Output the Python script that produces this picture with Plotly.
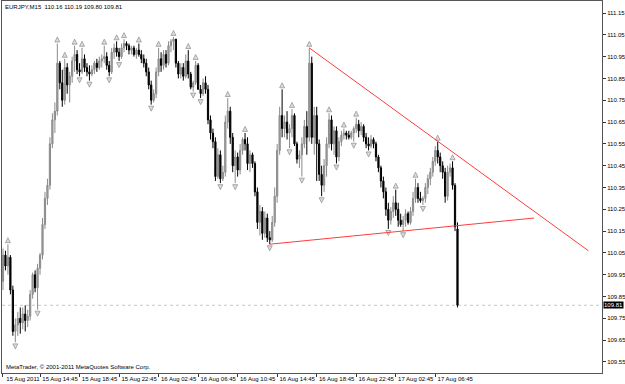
import pandas as pd
import plotly.graph_objects as go

symbol_title = "EURJPY,M15  110.16 110.19 109.80 109.81"
copyright_text = "MetaTrader, © 2001-2011 MetaQuotes Software Corp."
first_bar_time = "2011-08-15 11:00"

opens = [109.92, 110.04, 109.99, 110.03, 109.88, 109.69, 109.72, 109.75, 109.73, 109.77,
         109.74, 109.76, 109.86, 109.95, 109.89, 109.98, 110.04, 110.18, 110.30, 110.36,
         110.55, 110.66, 110.70, 110.92, 110.83, 110.75, 110.90, 110.82, 110.86, 110.93,
         110.96, 110.89, 110.88, 110.94, 110.90, 110.88, 110.87, 110.89, 110.92, 110.90,
         110.93, 110.94, 110.95, 110.91, 110.88, 110.97, 110.99, 110.97, 110.95, 110.99,
         111.01, 111.00, 110.98, 110.99, 110.96, 110.98, 110.96, 110.94, 110.92, 110.88,
         110.82, 110.75, 110.78, 110.88, 110.94, 110.91, 110.96, 110.92, 111.00, 111.02,
         111.03, 110.92, 110.87, 110.90, 110.86, 110.93, 110.87, 110.81, 110.83, 110.91,
         110.80, 110.78, 110.83, 110.80, 110.66, 110.60, 110.56, 110.40, 110.50, 110.39,
         110.42, 110.65, 110.70, 110.58, 110.45, 110.49, 110.43, 110.52, 110.57, 110.55,
         110.46, 110.50, 110.46, 110.33, 110.19, 110.24, 110.14, 110.21, 110.12, 110.11,
         110.19, 110.31, 110.52, 110.68, 110.62, 110.65, 110.60, 110.62, 110.68, 110.55,
         110.48, 110.50, 110.55, 110.63, 110.58, 110.92, 110.58, 110.68, 110.55, 110.41,
         110.36, 110.45, 110.55, 110.66, 110.55, 110.61, 110.49, 110.56, 110.59, 110.60,
         110.59, 110.58, 110.60, 110.62, 110.64, 110.61, 110.63, 110.58, 110.55, 110.54,
         110.57, 110.55, 110.49, 110.44, 110.38, 110.33, 110.25, 110.20, 110.24, 110.28,
         110.25, 110.20, 110.18, 110.20, 110.23, 110.19, 110.24, 110.30, 110.35, 110.30,
         110.29, 110.30, 110.35, 110.39, 110.42, 110.47, 110.52, 110.49, 110.45, 110.42,
         110.31, 110.42, 110.44, 110.36, 110.16]

highs = [110.07, 110.06, 110.09, 110.04, 109.90, 109.75, 109.78, 109.80, 109.80, 109.81,
         109.79, 109.88, 109.96, 109.97, 110.00, 110.05, 110.21, 110.33, 110.39, 110.58,
         110.69, 110.74, 111.01, 110.93, 110.89, 110.94, 110.92, 110.88, 110.95, 111.00,
         110.98, 110.92, 110.99, 110.96, 110.92, 110.91, 110.91, 110.93, 110.94, 110.95,
         110.96, 111.00, 110.97, 110.93, 110.99, 111.01, 111.02, 110.99, 111.01, 111.03,
         111.02, 111.01, 111.00, 111.00, 110.99, 111.01, 110.98, 110.96, 110.94, 110.90,
         110.84, 110.80, 110.90, 110.99, 110.97, 110.98, 110.98, 111.02, 111.03, 111.04,
         111.03, 110.93, 110.92, 110.92, 110.96, 110.98, 110.88, 110.84, 110.93, 110.92,
         110.82, 110.85, 110.86, 110.82, 110.68, 110.62, 110.58, 110.53, 110.52, 110.45,
         110.68, 110.76, 110.72, 110.60, 110.52, 110.51, 110.55, 110.58, 110.60, 110.58,
         110.52, 110.51, 110.47, 110.35, 110.27, 110.26, 110.24, 110.23, 110.15, 110.22,
         110.35, 110.55, 110.72, 110.80, 110.68, 110.70, 110.64, 110.71, 110.69, 110.56,
         110.52, 110.58, 110.66, 110.70, 110.99, 110.95, 110.72, 110.72, 110.57, 110.45,
         110.48, 110.58, 110.69, 110.68, 110.63, 110.63, 110.58, 110.61, 110.62, 110.61,
         110.61, 110.61, 110.63, 110.67, 110.66, 110.65, 110.64, 110.60, 110.58, 110.59,
         110.58, 110.56, 110.50, 110.45, 110.40, 110.35, 110.28, 110.26, 110.31, 110.34,
         110.28, 110.23, 110.22, 110.25, 110.24, 110.26, 110.33, 110.39, 110.37, 110.33,
         110.31, 110.37, 110.41, 110.44, 110.49, 110.54, 110.56, 110.51, 110.47, 110.44,
         110.45, 110.46, 110.47, 110.37, 110.19]

lows = [109.88, 109.97, 109.95, 109.86, 109.67, 109.64, 109.67, 109.68, 109.70, 109.69,
        109.71, 109.74, 109.84, 109.87, 109.79, 109.95, 110.02, 110.16, 110.27, 110.34,
        110.53, 110.60, 110.68, 110.80, 110.72, 110.73, 110.78, 110.74, 110.83, 110.88,
        110.87, 110.86, 110.87, 110.88, 110.86, 110.84, 110.86, 110.87, 110.88, 110.89,
        110.90, 110.92, 110.89, 110.86, 110.87, 110.94, 110.95, 110.93, 110.94, 110.97,
        110.98, 110.96, 110.96, 110.95, 110.94, 110.95, 110.92, 110.90, 110.86, 110.80,
        110.73, 110.74, 110.76, 110.86, 110.88, 110.89, 110.90, 110.91, 110.97, 110.98,
        110.90, 110.85, 110.85, 110.84, 110.85, 110.85, 110.80, 110.79, 110.82, 110.80,
        110.76, 110.77, 110.78, 110.64, 110.57, 110.53, 110.38, 110.39, 110.37, 110.38,
        110.40, 110.62, 110.55, 110.42, 110.37, 110.40, 110.41, 110.50, 110.52, 110.43,
        110.42, 110.44, 110.31, 110.16, 110.13, 110.11, 110.12, 110.10, 110.09, 110.10,
        110.17, 110.28, 110.50, 110.58, 110.58, 110.57, 110.53, 110.58, 110.54, 110.46,
        110.44, 110.40, 110.53, 110.50, 110.56, 110.55, 110.50, 110.38, 110.38, 110.31,
        110.33, 110.40, 110.53, 110.52, 110.50, 110.46, 110.47, 110.54, 110.57, 110.57,
        110.57, 110.57, 110.56, 110.60, 110.58, 110.59, 110.56, 110.53, 110.52, 110.53,
        110.53, 110.47, 110.42, 110.35, 110.30, 110.22, 110.16, 110.18, 110.21, 110.22,
        110.17, 110.17, 110.15, 110.17, 110.18, 110.18, 110.22, 110.28, 110.28, 110.28,
        110.27, 110.28, 110.32, 110.36, 110.40, 110.45, 110.46, 110.42, 110.39, 110.28,
        110.29, 110.40, 110.34, 110.15, 109.80]

closes = [110.04, 109.99, 110.03, 109.88, 109.69, 109.72, 109.75, 109.73, 109.77, 109.74,
          109.76, 109.86, 109.95, 109.89, 109.98, 110.04, 110.18, 110.30, 110.36, 110.55,
          110.66, 110.70, 110.92, 110.83, 110.75, 110.90, 110.82, 110.86, 110.93, 110.96,
          110.89, 110.88, 110.94, 110.90, 110.88, 110.87, 110.89, 110.92, 110.90, 110.93,
          110.94, 110.95, 110.91, 110.88, 110.97, 110.99, 110.97, 110.95, 110.99, 111.01,
          111.00, 110.98, 110.99, 110.96, 110.98, 110.96, 110.94, 110.92, 110.88, 110.82,
          110.75, 110.78, 110.88, 110.94, 110.91, 110.96, 110.92, 111.00, 111.02, 111.03,
          110.92, 110.87, 110.90, 110.86, 110.93, 110.87, 110.81, 110.83, 110.91, 110.80,
          110.78, 110.83, 110.80, 110.66, 110.60, 110.56, 110.40, 110.50, 110.39, 110.42,
          110.65, 110.70, 110.58, 110.45, 110.49, 110.43, 110.52, 110.57, 110.55, 110.46,
          110.50, 110.46, 110.33, 110.19, 110.24, 110.14, 110.21, 110.12, 110.11, 110.19,
          110.31, 110.52, 110.68, 110.62, 110.65, 110.60, 110.62, 110.68, 110.55, 110.48,
          110.50, 110.55, 110.63, 110.58, 110.92, 110.58, 110.68, 110.55, 110.41, 110.36,
          110.45, 110.55, 110.66, 110.55, 110.61, 110.49, 110.56, 110.59, 110.60, 110.59,
          110.58, 110.60, 110.62, 110.64, 110.61, 110.63, 110.58, 110.55, 110.54, 110.57,
          110.55, 110.49, 110.44, 110.38, 110.33, 110.25, 110.20, 110.24, 110.28, 110.25,
          110.20, 110.18, 110.20, 110.23, 110.19, 110.24, 110.30, 110.35, 110.30, 110.29,
          110.30, 110.35, 110.39, 110.42, 110.47, 110.52, 110.49, 110.45, 110.42, 110.31,
          110.42, 110.44, 110.36, 110.17, 109.81]

fractal_up_bars = [2, 22, 25, 29, 32, 41, 46, 49, 55, 63, 69, 75, 78, 91, 98, 113, 117,
                   124, 132, 138, 143, 159, 167, 176, 182]
fractal_down_bars = [5, 14, 31, 35, 43, 47, 60, 77, 80, 88, 94, 108, 116, 121, 129, 135,
                     142, 148, 156, 162, 170]

upper_trend_time = ["2011-08-16 18:00", "2011-08-17 22:15"]
upper_trend_price = [110.99, 110.06]
lower_trend_time = ["2011-08-16 14:00", "2011-08-17 16:45"]
lower_trend_price = [110.09, 110.21]

bid_price = 109.81
bid_label = "109.81"

price_ticks = [109.55, 109.65, 109.75, 109.85, 109.95, 110.05, 110.15, 110.25, 110.35,
               110.45, 110.55, 110.65, 110.75, 110.85, 110.95, 111.05, 111.15]
price_tick_labels = ["109.55", "109.65", "109.75", "109.85", "109.95", "110.05", "110.15",
                     "110.25", "110.35", "110.45", "110.55", "110.65", "110.75", "110.85",
                     "110.95", "111.05", "111.15"]
time_tick_values = ["2011-08-15 11:00", "2011-08-15 14:45", "2011-08-15 18:45",
                    "2011-08-15 22:45", "2011-08-16 02:45", "2011-08-16 06:45",
                    "2011-08-16 10:45", "2011-08-16 14:45", "2011-08-16 18:45",
                    "2011-08-16 22:45", "2011-08-17 02:45", "2011-08-17 06:45"]
time_tick_labels = ["15 Aug 2011", "15 Aug 14:45", "15 Aug 18:45", "15 Aug 22:45",
                    "16 Aug 02:45", "16 Aug 06:45", "16 Aug 10:45", "16 Aug 14:45",
                    "16 Aug 18:45", "16 Aug 22:45", "17 Aug 02:45", "17 Aug 06:45"]

x_range = ["2011-08-15 10:54", "2011-08-17 23:37:30"]
y_range = [109.4995, 111.205]

times = pd.date_range(first_bar_time, periods=len(closes), freq="15min")

FONT = "Liberation Sans, Arial, sans-serif"
FS = 6
pad = 0.03

fig = go.Figure()

fig.add_trace(go.Candlestick(
    x=times, open=opens, high=highs, low=lows, close=closes,
    increasing=dict(line=dict(color="#8a8a8a", width=1), fillcolor="#a6a6a6"),
    decreasing=dict(line=dict(color="#000000", width=1), fillcolor="#000000"),
    whiskerwidth=0, hoverinfo="skip", showlegend=False,
))

fig.add_trace(go.Scatter(
    x=[times[i] for i in fractal_up_bars],
    y=[highs[i] + pad for i in fractal_up_bars],
    mode="markers",
    marker=dict(symbol="arrow-up", size=5, color="#dcdcdc",
                line=dict(color="#8c8c8c", width=0.7)),
    hoverinfo="skip", showlegend=False,
))
fig.add_trace(go.Scatter(
    x=[times[i] for i in fractal_down_bars],
    y=[lows[i] - pad for i in fractal_down_bars],
    mode="markers",
    marker=dict(symbol="arrow-down", size=5, color="#dcdcdc",
                line=dict(color="#8c8c8c", width=0.7)),
    hoverinfo="skip", showlegend=False,
))

for tx, ty in ((upper_trend_time, upper_trend_price), (lower_trend_time, lower_trend_price)):
    fig.add_trace(go.Scatter(
        x=pd.to_datetime(tx), y=ty, mode="lines",
        line=dict(color="#ff3c3c", width=1),
        hoverinfo="skip", showlegend=False,
    ))

fig.add_shape(type="line", xref="paper", x0=0, x1=1, yref="y", y0=bid_price, y1=bid_price,
              line=dict(color="#c8c8c8", width=1, dash="dot"), layer="below")

fig.add_annotation(text=symbol_title, xref="paper", yref="paper", x=0, y=1,
                   xanchor="left", yanchor="top", xshift=1, yshift=-1, showarrow=False,
                   font=dict(family=FONT, size=FS, color="black"))
fig.add_annotation(text=copyright_text, xref="paper", yref="paper", x=0, y=0,
                   xanchor="left", yanchor="bottom", xshift=2, yshift=1, showarrow=False,
                   font=dict(family=FONT, size=FS, color="black"))
fig.add_annotation(text=bid_label, xref="paper", yref="y", x=1, y=bid_price,
                   xanchor="left", yanchor="middle", xshift=1, showarrow=False,
                   bgcolor="black", borderpad=0,
                   font=dict(family=FONT, size=FS, color="white"))

fig.update_layout(
    width=625, height=384,
    margin=dict(l=2, r=23, t=1, b=11, autoexpand=False),
    paper_bgcolor="white", plot_bgcolor="white",
    showlegend=False,
    font=dict(family=FONT, size=FS, color="black"),
    xaxis=dict(type="date", range=x_range, tickvals=time_tick_values,
               ticktext=time_tick_labels, ticks="outside", ticklen=3, tickcolor="#333",
               showline=True, linecolor="#555", linewidth=1, mirror=True,
               showgrid=False, zeroline=False, rangeslider=dict(visible=False),
               tickangle=0, ticklabelshift=20, ticklabelstandoff=-3,
               tickfont=dict(family=FONT, size=FS, color="black"), automargin=False),
    yaxis=dict(side="right", range=y_range, tickvals=price_ticks,
               ticktext=price_tick_labels, ticks="outside", ticklen=3, tickcolor="#333",
               showline=True, linecolor="#555", linewidth=1, mirror=True,
               showgrid=False, zeroline=False,
               tickfont=dict(family=FONT, size=FS, color="black"), automargin=False),
)

fig.write_html("out.html")
